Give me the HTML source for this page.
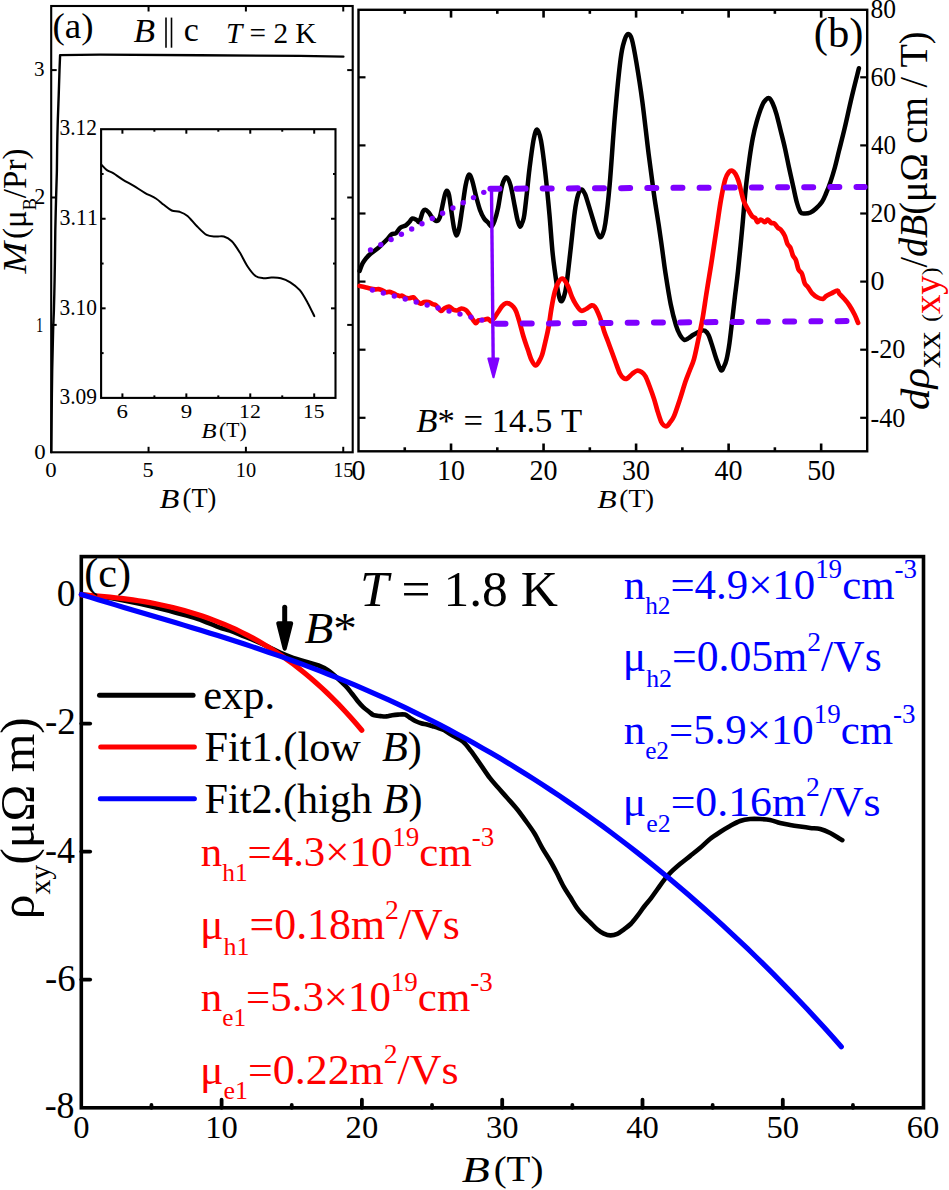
<!DOCTYPE html>
<html><head><meta charset="utf-8"><style>
html,body{margin:0;padding:0;background:#fff;}
body{width:949px;height:1190px;overflow:hidden;}
svg{display:block;font-family:"Liberation Serif",serif;font-kerning:none;}
text{font-kerning:none;}
</style></head><body>
<svg width="949" height="1190" viewBox="0 0 949 1190">
<rect width="949" height="1190" fill="#fff"/>
<rect x="51.20" y="6.00" width="301.50" height="446.30" fill="none" stroke="#000" stroke-width="2.1" stroke-linejoin="miter"/>
<line x1="148.55" y1="452.30" x2="148.55" y2="446.80" stroke="#000" stroke-width="2" stroke-linecap="butt" />
<line x1="148.55" y1="6.00" x2="148.55" y2="11.50" stroke="#000" stroke-width="2" stroke-linecap="butt" />
<line x1="245.90" y1="452.30" x2="245.90" y2="446.80" stroke="#000" stroke-width="2" stroke-linecap="butt" />
<line x1="245.90" y1="6.00" x2="245.90" y2="11.50" stroke="#000" stroke-width="2" stroke-linecap="butt" />
<line x1="343.25" y1="452.30" x2="343.25" y2="446.80" stroke="#000" stroke-width="2" stroke-linecap="butt" />
<line x1="343.25" y1="6.00" x2="343.25" y2="11.50" stroke="#000" stroke-width="2" stroke-linecap="butt" />
<line x1="51.20" y1="324.90" x2="56.70" y2="324.90" stroke="#000" stroke-width="2" stroke-linecap="butt" />
<line x1="352.70" y1="324.90" x2="347.20" y2="324.90" stroke="#000" stroke-width="2" stroke-linecap="butt" />
<line x1="51.20" y1="197.50" x2="56.70" y2="197.50" stroke="#000" stroke-width="2" stroke-linecap="butt" />
<line x1="352.70" y1="197.50" x2="347.20" y2="197.50" stroke="#000" stroke-width="2" stroke-linecap="butt" />
<line x1="51.20" y1="70.10" x2="56.70" y2="70.10" stroke="#000" stroke-width="2" stroke-linecap="butt" />
<line x1="352.70" y1="70.10" x2="347.20" y2="70.10" stroke="#000" stroke-width="2" stroke-linecap="butt" />
<path d="M51.30,452.00 C51.35,446.67 51.45,433.67 51.60,420.00 C51.75,406.33 51.95,384.83 52.20,370.00 C52.45,355.17 52.82,341.00 53.10,331.00 C53.38,321.00 53.65,318.50 53.90,310.00 C54.15,301.50 54.42,289.17 54.60,280.00 C54.78,270.83 54.88,263.23 55.00,255.00 C55.12,246.77 55.12,240.20 55.30,230.60 C55.48,221.00 55.83,207.50 56.10,197.40 C56.37,187.30 56.72,178.73 56.90,170.00 C57.08,161.27 57.05,153.23 57.20,145.00 C57.35,136.77 57.55,128.87 57.80,120.60 C58.05,112.33 58.42,103.80 58.70,95.40 C58.98,87.00 59.27,76.92 59.50,70.20 C59.73,63.48 60.00,57.62 60.10,55.10 L100,54.6 L200,55.2 L300,55.9 L343.4,56.6" fill="none" stroke="#000" stroke-width="2.4" stroke-linejoin="round" stroke-linecap="round" />
<rect x="101.10" y="129.20" width="234.40" height="268.70" fill="none" stroke="#000" stroke-width="2.1" stroke-linejoin="miter"/>
<line x1="122.41" y1="397.90" x2="122.41" y2="393.40" stroke="#000" stroke-width="2.0" stroke-linecap="butt" />
<line x1="122.41" y1="129.20" x2="122.41" y2="133.70" stroke="#000" stroke-width="2.0" stroke-linecap="butt" />
<line x1="186.34" y1="397.90" x2="186.34" y2="393.40" stroke="#000" stroke-width="2.0" stroke-linecap="butt" />
<line x1="186.34" y1="129.20" x2="186.34" y2="133.70" stroke="#000" stroke-width="2.0" stroke-linecap="butt" />
<line x1="250.27" y1="397.90" x2="250.27" y2="393.40" stroke="#000" stroke-width="2.0" stroke-linecap="butt" />
<line x1="250.27" y1="129.20" x2="250.27" y2="133.70" stroke="#000" stroke-width="2.0" stroke-linecap="butt" />
<line x1="314.20" y1="397.90" x2="314.20" y2="393.40" stroke="#000" stroke-width="2.0" stroke-linecap="butt" />
<line x1="314.20" y1="129.20" x2="314.20" y2="133.70" stroke="#000" stroke-width="2.0" stroke-linecap="butt" />
<line x1="154.38" y1="397.90" x2="154.38" y2="395.40" stroke="#000" stroke-width="2.0" stroke-linecap="butt" />
<line x1="154.38" y1="129.20" x2="154.38" y2="131.70" stroke="#000" stroke-width="2.0" stroke-linecap="butt" />
<line x1="218.31" y1="397.90" x2="218.31" y2="395.40" stroke="#000" stroke-width="2.0" stroke-linecap="butt" />
<line x1="218.31" y1="129.20" x2="218.31" y2="131.70" stroke="#000" stroke-width="2.0" stroke-linecap="butt" />
<line x1="282.24" y1="397.90" x2="282.24" y2="395.40" stroke="#000" stroke-width="2.0" stroke-linecap="butt" />
<line x1="282.24" y1="129.20" x2="282.24" y2="131.70" stroke="#000" stroke-width="2.0" stroke-linecap="butt" />
<line x1="101.10" y1="308.33" x2="105.60" y2="308.33" stroke="#000" stroke-width="2.0" stroke-linecap="butt" />
<line x1="335.50" y1="308.33" x2="331.00" y2="308.33" stroke="#000" stroke-width="2.0" stroke-linecap="butt" />
<line x1="101.10" y1="218.76" x2="105.60" y2="218.76" stroke="#000" stroke-width="2.0" stroke-linecap="butt" />
<line x1="335.50" y1="218.76" x2="331.00" y2="218.76" stroke="#000" stroke-width="2.0" stroke-linecap="butt" />
<line x1="101.10" y1="353.11" x2="103.60" y2="353.11" stroke="#000" stroke-width="2.0" stroke-linecap="butt" />
<line x1="335.50" y1="353.11" x2="333.00" y2="353.11" stroke="#000" stroke-width="2.0" stroke-linecap="butt" />
<line x1="101.10" y1="263.54" x2="103.60" y2="263.54" stroke="#000" stroke-width="2.0" stroke-linecap="butt" />
<line x1="335.50" y1="263.54" x2="333.00" y2="263.54" stroke="#000" stroke-width="2.0" stroke-linecap="butt" />
<line x1="101.10" y1="173.97" x2="103.60" y2="173.97" stroke="#000" stroke-width="2.0" stroke-linecap="butt" />
<line x1="335.50" y1="173.97" x2="333.00" y2="173.97" stroke="#000" stroke-width="2.0" stroke-linecap="butt" />
<path d="M101.20,164.40 C102.15,165.35 104.90,168.63 106.90,170.10 C108.90,171.57 110.57,171.62 113.20,173.20 C115.83,174.78 119.27,177.48 122.70,179.60 C126.13,181.72 130.12,183.70 133.80,185.90 C137.48,188.10 141.12,190.70 144.80,192.80 C148.48,194.90 152.73,196.50 155.90,198.50 C159.07,200.50 161.17,202.80 163.80,204.80 C166.43,206.80 169.07,209.33 171.70,210.50 C174.33,211.67 176.97,210.90 179.60,211.80 C182.23,212.70 184.60,213.48 187.50,215.90 C190.40,218.32 193.83,223.13 197.00,226.30 C200.17,229.47 203.33,233.20 206.50,234.90 C209.67,236.60 213.10,236.23 216.00,236.50 C218.90,236.77 221.27,235.72 223.90,236.50 C226.53,237.28 229.17,238.57 231.80,241.20 C234.43,243.83 237.07,248.08 239.70,252.30 C242.33,256.52 244.97,262.55 247.60,266.50 C250.23,270.45 252.87,274.05 255.50,276.00 C258.13,277.95 260.77,277.93 263.40,278.20 C266.03,278.47 268.40,277.60 271.30,277.60 C274.20,277.60 277.63,277.42 280.80,278.20 C283.97,278.98 287.13,280.30 290.30,282.30 C293.47,284.30 296.90,286.77 299.80,290.20 C302.70,293.63 305.28,298.58 307.70,302.90 C310.12,307.22 313.20,313.90 314.30,316.10" fill="none" stroke="#000" stroke-width="2.0" stroke-linejoin="round" stroke-linecap="round" />
<text transform="matrix(0.09244,0,0,0.08705,52.429,37.901)" font-size="400" fill="#000" ><tspan x="0.00" y="0.00">(a)</tspan></text>
<text transform="matrix(0.08836,0,0,0.08555,133.447,41.614)" font-size="400" fill="#000" ><tspan x="0.00" y="0.00" font-style="italic">B</tspan></text>
<line x1="166.00" y1="17.60" x2="166.00" y2="47.70" stroke="#000" stroke-width="1.6" stroke-linecap="butt" />
<line x1="171.50" y1="17.60" x2="171.50" y2="47.70" stroke="#000" stroke-width="1.6" stroke-linecap="butt" />
<text transform="matrix(0.08467,0,0,0.08281,183.830,41.069)" font-size="400" fill="#000" ><tspan x="0.00" y="0.00">c</tspan></text>
<text transform="matrix(0.07316,0,0,0.07434,225.998,43.000)" font-size="400" fill="#000" ><tspan x="0.00" y="0.00" font-style="italic">T</tspan><tspan x="222.47" y="0.00"> = 2 K</tspan></text>
<text transform="matrix(0.05706,0,0,0.05481,34.244,458.781)" font-size="400" fill="#000" ><tspan x="0.00" y="0.00">0</tspan></text>
<text transform="matrix(0.03617,0,0,0.05492,35.934,331.600)" font-size="400" fill="#000" ><tspan x="0.00" y="0.00">1</tspan></text>
<text transform="matrix(0.05528,0,0,0.05547,34.160,203.800)" font-size="400" fill="#000" ><tspan x="0.00" y="0.00">2</tspan></text>
<text transform="matrix(0.05273,0,0,0.05242,33.898,75.890)" font-size="400" fill="#000" ><tspan x="0.00" y="0.00">3</tspan></text>
<text transform="matrix(0.05706,0,0,0.05444,45.144,476.682)" font-size="400" fill="#000" ><tspan x="0.00" y="0.00">0</tspan></text>
<text transform="matrix(0.05528,0,0,0.05263,142.429,476.689)" font-size="400" fill="#000" ><tspan x="0.00" y="0.00">5</tspan></text>
<text transform="matrix(0.05086,0,0,0.05333,235.720,476.687)" font-size="400" fill="#000" ><tspan x="0.00" y="0.00">10</tspan></text>
<text transform="matrix(0.05072,0,0,0.05299,333.125,476.588)" font-size="400" fill="#000" ><tspan x="0.00" y="0.00">15</tspan></text>
<text transform="matrix(0.08103,0,0,0.06730,159.576,507.633)" font-size="400" fill="#000" ><tspan x="0.00" y="0.00" font-style="italic">B</tspan></text>
<text transform="matrix(0.06625,0,0,0.06612,182.574,507.280)" font-size="400" fill="#000" ><tspan x="0.00" y="0.00">(T)</tspan></text>
<text transform="matrix(0,-0.09552,0.08550,0,25.900,273.622)" font-size="400" fill="#000" ><tspan x="0.00" y="0.00" font-style="italic">M</tspan></text>
<text transform="matrix(0,-0.08264,0.08313,0,26.009,239.005)" font-size="400" fill="#000" ><tspan x="0.00" y="0.00">(μ</tspan><tspan x="347.66" y="124.00" font-size="220.00">B</tspan><tspan x="494.39" y="0.00">/Pr)</tspan></text>
<text transform="matrix(0.05357,0,0,0.05535,59.482,134.968)" font-size="400" fill="#000" ><tspan x="0.00" y="0.00">3.12</tspan></text>
<text transform="matrix(0.05498,0,0,0.05535,59.455,225.068)" font-size="400" fill="#000" ><tspan x="0.00" y="0.00">3.11</tspan></text>
<text transform="matrix(0.05345,0,0,0.05515,59.484,314.669)" font-size="400" fill="#000" ><tspan x="0.00" y="0.00">3.10</tspan></text>
<text transform="matrix(0.05353,0,0,0.05515,59.483,404.469)" font-size="400" fill="#000" ><tspan x="0.00" y="0.00">3.09</tspan></text>
<text transform="matrix(0.05731,0,0,0.04498,116.536,418.020)" font-size="400" fill="#000" ><tspan x="0.00" y="0.00">6</tspan></text>
<text transform="matrix(0.05731,0,0,0.04498,180.695,418.020)" font-size="400" fill="#000" ><tspan x="0.00" y="0.00">9</tspan></text>
<text transform="matrix(0.05452,0,0,0.04566,239.012,418.200)" font-size="400" fill="#000" ><tspan x="0.00" y="0.00">12</tspan></text>
<text transform="matrix(0.05358,0,0,0.04515,302.975,418.019)" font-size="400" fill="#000" ><tspan x="0.00" y="0.00">15</tspan></text>
<text transform="matrix(0.06250,0,0,0.05019,201.150,437.650)" font-size="400" fill="#000" ><tspan x="0.00" y="0.00" font-style="italic">B</tspan></text>
<text transform="matrix(0.05409,0,0,0.05069,218.981,436.791)" font-size="400" fill="#000" ><tspan x="0.00" y="0.00">(T)</tspan></text>
<rect x="358.50" y="9.80" width="508.70" height="441.50" fill="none" stroke="#000" stroke-width="2.4" stroke-linejoin="miter"/>
<line x1="404.76" y1="451.30" x2="404.76" y2="447.30" stroke="#000" stroke-width="2.6" stroke-linecap="butt" />
<line x1="404.76" y1="9.80" x2="404.76" y2="13.80" stroke="#000" stroke-width="2.6" stroke-linecap="butt" />
<line x1="451.03" y1="451.30" x2="451.03" y2="443.50" stroke="#000" stroke-width="2.6" stroke-linecap="butt" />
<line x1="451.03" y1="9.80" x2="451.03" y2="17.60" stroke="#000" stroke-width="2.6" stroke-linecap="butt" />
<line x1="497.30" y1="451.30" x2="497.30" y2="447.30" stroke="#000" stroke-width="2.6" stroke-linecap="butt" />
<line x1="497.30" y1="9.80" x2="497.30" y2="13.80" stroke="#000" stroke-width="2.6" stroke-linecap="butt" />
<line x1="543.56" y1="451.30" x2="543.56" y2="443.50" stroke="#000" stroke-width="2.6" stroke-linecap="butt" />
<line x1="543.56" y1="9.80" x2="543.56" y2="17.60" stroke="#000" stroke-width="2.6" stroke-linecap="butt" />
<line x1="589.83" y1="451.30" x2="589.83" y2="447.30" stroke="#000" stroke-width="2.6" stroke-linecap="butt" />
<line x1="589.83" y1="9.80" x2="589.83" y2="13.80" stroke="#000" stroke-width="2.6" stroke-linecap="butt" />
<line x1="636.09" y1="451.30" x2="636.09" y2="443.50" stroke="#000" stroke-width="2.6" stroke-linecap="butt" />
<line x1="636.09" y1="9.80" x2="636.09" y2="17.60" stroke="#000" stroke-width="2.6" stroke-linecap="butt" />
<line x1="682.36" y1="451.30" x2="682.36" y2="447.30" stroke="#000" stroke-width="2.6" stroke-linecap="butt" />
<line x1="682.36" y1="9.80" x2="682.36" y2="13.80" stroke="#000" stroke-width="2.6" stroke-linecap="butt" />
<line x1="728.62" y1="451.30" x2="728.62" y2="443.50" stroke="#000" stroke-width="2.6" stroke-linecap="butt" />
<line x1="728.62" y1="9.80" x2="728.62" y2="17.60" stroke="#000" stroke-width="2.6" stroke-linecap="butt" />
<line x1="774.88" y1="451.30" x2="774.88" y2="447.30" stroke="#000" stroke-width="2.6" stroke-linecap="butt" />
<line x1="774.88" y1="9.80" x2="774.88" y2="13.80" stroke="#000" stroke-width="2.6" stroke-linecap="butt" />
<line x1="821.15" y1="451.30" x2="821.15" y2="443.50" stroke="#000" stroke-width="2.6" stroke-linecap="butt" />
<line x1="821.15" y1="9.80" x2="821.15" y2="17.60" stroke="#000" stroke-width="2.6" stroke-linecap="butt" />
<line x1="358.50" y1="77.30" x2="365.50" y2="77.30" stroke="#000" stroke-width="2.2" stroke-linecap="butt" />
<line x1="867.20" y1="77.30" x2="860.20" y2="77.30" stroke="#000" stroke-width="2.2" stroke-linecap="butt" />
<line x1="358.50" y1="145.40" x2="365.50" y2="145.40" stroke="#000" stroke-width="2.2" stroke-linecap="butt" />
<line x1="867.20" y1="145.40" x2="860.20" y2="145.40" stroke="#000" stroke-width="2.2" stroke-linecap="butt" />
<line x1="358.50" y1="213.50" x2="365.50" y2="213.50" stroke="#000" stroke-width="2.2" stroke-linecap="butt" />
<line x1="867.20" y1="213.50" x2="860.20" y2="213.50" stroke="#000" stroke-width="2.2" stroke-linecap="butt" />
<line x1="358.50" y1="281.60" x2="365.50" y2="281.60" stroke="#000" stroke-width="2.2" stroke-linecap="butt" />
<line x1="867.20" y1="281.60" x2="860.20" y2="281.60" stroke="#000" stroke-width="2.2" stroke-linecap="butt" />
<line x1="358.50" y1="349.70" x2="365.50" y2="349.70" stroke="#000" stroke-width="2.2" stroke-linecap="butt" />
<line x1="867.20" y1="349.70" x2="860.20" y2="349.70" stroke="#000" stroke-width="2.2" stroke-linecap="butt" />
<line x1="358.50" y1="417.80" x2="365.50" y2="417.80" stroke="#000" stroke-width="2.2" stroke-linecap="butt" />
<line x1="867.20" y1="417.80" x2="860.20" y2="417.80" stroke="#000" stroke-width="2.2" stroke-linecap="butt" />
<path d="M359.60,271.00 C360.08,269.75 361.43,265.60 362.50,263.50 C363.57,261.40 364.80,259.90 366.00,258.40 C367.20,256.90 368.00,255.97 369.70,254.50 C371.40,253.03 374.20,251.25 376.20,249.60 C378.20,247.95 379.87,246.33 381.70,244.60 C383.53,242.87 385.57,240.92 387.20,239.20 C388.83,237.48 390.05,235.30 391.50,234.30 C392.95,233.30 394.43,234.30 395.90,233.20 C397.37,232.10 398.67,228.98 400.30,227.70 C401.93,226.42 404.15,226.50 405.70,225.50 C407.25,224.50 408.50,222.88 409.60,221.70 C410.70,220.52 411.12,218.67 412.30,218.40 C413.48,218.13 415.52,219.55 416.70,220.10 C417.88,220.65 418.40,223.07 419.40,221.70 C420.40,220.33 421.70,213.90 422.70,211.90 C423.70,209.90 424.40,209.62 425.40,209.70 C426.40,209.78 427.60,211.13 428.70,212.40 C429.80,213.67 430.73,215.85 432.00,217.30 C433.27,218.75 435.03,221.00 436.30,221.10 C437.57,221.20 438.60,220.35 439.60,217.90 C440.60,215.45 441.43,210.22 442.30,206.40 C443.17,202.58 444.07,197.60 444.80,195.00 C445.53,192.40 446.00,190.80 446.70,190.80 C447.40,190.80 448.20,191.47 449.00,195.00 C449.80,198.53 450.67,206.50 451.50,212.00 C452.33,217.50 453.18,224.07 454.00,228.00 C454.82,231.93 455.57,235.43 456.40,235.60 C457.23,235.77 458.07,233.27 459.00,229.00 C459.93,224.73 460.92,217.17 462.00,210.00 C463.08,202.83 464.38,191.87 465.50,186.00 C466.62,180.13 467.62,175.80 468.70,174.80 C469.78,173.80 470.78,176.47 472.00,180.00 C473.22,183.53 474.67,191.00 476.00,196.00 C477.33,201.00 478.65,206.25 480.00,210.00 C481.35,213.75 482.77,216.42 484.10,218.50 C485.43,220.58 486.77,221.18 488.00,222.50 C489.23,223.82 490.42,226.65 491.50,226.40 C492.58,226.15 493.43,223.97 494.50,221.00 C495.57,218.03 496.63,214.52 497.90,208.60 C499.17,202.68 500.68,190.73 502.10,185.50 C503.52,180.27 504.98,177.20 506.40,177.20 C507.82,177.20 509.20,180.62 510.60,185.50 C512.00,190.38 513.65,200.75 514.80,206.50 C515.95,212.25 516.63,216.65 517.50,220.00 C518.37,223.35 519.17,226.27 520.00,226.60 C520.83,226.93 521.78,223.93 522.50,222.00 C523.22,220.07 523.55,220.00 524.30,215.00 C525.05,210.00 526.13,199.73 527.00,192.00 C527.87,184.27 528.38,177.42 529.50,168.60 C530.62,159.78 532.40,145.60 533.70,139.10 C535.00,132.60 536.07,129.25 537.30,129.60 C538.53,129.95 539.77,134.00 541.10,141.20 C542.43,148.40 543.90,160.50 545.30,172.80 C546.70,185.10 548.27,201.50 549.50,215.00 C550.73,228.50 551.47,242.07 552.70,253.80 C553.93,265.53 555.77,278.03 556.90,285.40 C558.03,292.77 558.73,295.37 559.50,298.00 C560.27,300.63 560.78,301.37 561.50,301.20 C562.22,301.03 562.98,299.63 563.80,297.00 C564.62,294.37 565.27,293.32 566.40,285.40 C567.53,277.48 569.20,261.80 570.60,249.50 C572.00,237.20 573.57,220.68 574.80,211.60 C576.03,202.52 576.85,198.68 578.00,195.00 C579.15,191.32 580.53,189.67 581.70,189.50 C582.87,189.33 584.05,192.07 585.00,194.00 C585.95,195.93 585.93,196.42 587.40,201.10 C588.87,205.78 592.20,216.95 593.80,222.10 C595.40,227.25 596.00,229.48 597.00,232.00 C598.00,234.52 598.88,236.78 599.80,237.20 C600.72,237.62 601.57,236.87 602.50,234.50 C603.43,232.13 604.22,231.17 605.40,223.00 C606.58,214.83 608.02,203.35 609.60,185.50 C611.18,167.65 613.07,136.98 614.90,115.90 C616.73,94.82 618.98,71.65 620.60,59.00 C622.22,46.35 623.33,44.17 624.60,40.00 C625.87,35.83 626.98,34.08 628.20,34.00 C629.42,33.92 630.53,34.75 631.90,39.50 C633.27,44.25 634.67,52.22 636.40,62.50 C638.13,72.78 640.27,85.98 642.30,101.20 C644.33,116.42 646.67,138.35 648.60,153.80 C650.53,169.25 652.15,181.60 653.90,193.90 C655.65,206.20 657.70,218.25 659.10,227.60 C660.50,236.95 661.25,242.48 662.30,250.00 C663.35,257.52 664.00,263.65 665.40,272.70 C666.80,281.75 668.93,295.52 670.70,304.30 C672.47,313.08 674.45,320.28 676.00,325.40 C677.55,330.52 678.62,332.60 680.00,335.00 C681.38,337.40 682.87,339.28 684.30,339.80 C685.73,340.32 687.15,338.90 688.60,338.10 C690.05,337.30 691.60,335.88 693.00,335.00 C694.40,334.12 695.67,333.50 697.00,332.80 C698.33,332.10 699.67,331.15 701.00,330.80 C702.33,330.45 703.75,330.00 705.00,330.70 C706.25,331.40 707.37,332.72 708.50,335.00 C709.63,337.28 710.55,340.57 711.80,344.40 C713.05,348.23 714.48,353.72 716.00,358.00 C717.52,362.28 719.57,368.68 720.90,370.10 C722.23,371.52 723.05,368.30 724.00,366.50 C724.95,364.70 725.68,363.22 726.60,359.30 C727.52,355.38 728.55,349.63 729.50,343.00 C730.45,336.37 731.38,327.33 732.30,319.50 C733.22,311.67 734.05,304.07 735.00,296.00 C735.95,287.93 736.80,282.37 738.00,271.10 C739.20,259.83 740.93,241.92 742.20,228.40 C743.47,214.88 744.40,201.52 745.60,190.00 C746.80,178.48 748.20,167.97 749.40,159.30 C750.60,150.63 751.62,144.17 752.80,138.00 C753.98,131.83 754.93,127.75 756.50,122.30 C758.07,116.85 760.62,109.10 762.20,105.30 C763.78,101.50 764.82,100.68 766.00,99.50 C767.18,98.32 768.22,97.62 769.30,98.20 C770.38,98.78 771.32,100.40 772.50,103.00 C773.68,105.60 775.07,109.30 776.40,113.80 C777.73,118.30 779.08,124.32 780.50,130.00 C781.92,135.68 783.48,141.65 784.90,147.90 C786.32,154.15 787.57,160.85 789.00,167.50 C790.43,174.15 792.17,181.88 793.50,187.80 C794.83,193.72 795.82,198.90 797.00,203.00 C798.18,207.10 799.27,210.65 800.60,212.40 C801.93,214.15 803.35,213.48 805.00,213.50 C806.65,213.52 808.67,213.33 810.50,212.50 C812.33,211.67 814.10,210.25 816.00,208.50 C817.90,206.75 820.23,204.50 821.90,202.00 C823.57,199.50 824.58,196.82 826.00,193.50 C827.42,190.18 828.90,186.52 830.40,182.10 C831.90,177.68 833.57,172.22 835.00,167.00 C836.43,161.78 837.38,157.30 839.00,150.80 C840.62,144.30 842.57,137.02 844.70,128.00 C846.83,118.98 849.43,106.65 851.80,96.70 C854.17,86.75 857.72,73.03 858.90,68.30" fill="none" stroke="#000" stroke-width="4.5" stroke-linejoin="round" stroke-linecap="round" />
<path d="M359.60,286.00 C360.52,286.20 363.33,286.78 365.10,287.20 C366.87,287.62 368.52,288.15 370.20,288.50 C371.88,288.85 373.80,289.18 375.20,289.30 C376.60,289.42 377.47,289.05 378.60,289.20 C379.73,289.35 380.73,289.68 382.00,290.20 C383.27,290.72 384.93,292.02 386.20,292.30 C387.47,292.58 388.33,291.70 389.60,291.90 C390.87,292.10 392.53,292.95 393.80,293.50 C395.07,294.05 396.22,294.77 397.20,295.20 C398.18,295.63 398.87,296.02 399.70,296.10 C400.53,296.18 401.22,295.42 402.20,295.70 C403.18,295.98 404.33,297.38 405.60,297.80 C406.87,298.22 408.53,298.28 409.80,298.20 C411.07,298.12 412.07,296.88 413.20,297.30 C414.33,297.72 415.33,299.63 416.60,300.70 C417.87,301.77 419.55,303.48 420.80,303.70 C422.05,303.92 422.83,302.28 424.10,302.00 C425.37,301.72 426.98,301.65 428.40,302.00 C429.82,302.35 431.42,303.60 432.60,304.10 C433.78,304.60 434.67,304.50 435.50,305.00 C436.33,305.50 436.70,306.12 437.60,307.10 C438.50,308.08 439.80,310.67 440.90,310.90 C442.00,311.13 442.85,309.22 444.20,308.50 C445.55,307.78 447.42,306.37 449.00,306.60 C450.58,306.83 452.28,309.27 453.70,309.90 C455.12,310.53 456.23,310.63 457.50,310.40 C458.77,310.17 459.95,308.58 461.30,308.50 C462.65,308.42 464.33,309.03 465.60,309.90 C466.87,310.77 467.72,312.12 468.90,313.70 C470.08,315.28 471.52,317.82 472.70,319.40 C473.88,320.98 475.05,323.03 476.00,323.20 C476.95,323.37 477.22,320.95 478.40,320.40 C479.58,319.85 481.52,320.15 483.10,319.90 C484.68,319.65 486.55,318.67 487.90,318.90 C489.25,319.13 490.10,321.53 491.20,321.30 C492.30,321.07 493.32,319.08 494.50,317.50 C495.68,315.92 497.03,313.70 498.30,311.80 C499.57,309.90 500.83,307.52 502.10,306.10 C503.37,304.68 504.63,303.68 505.90,303.30 C507.17,302.92 508.43,303.17 509.70,303.80 C510.97,304.43 512.40,305.77 513.50,307.10 C514.60,308.43 515.30,309.32 516.30,311.80 C517.30,314.28 518.28,317.80 519.50,322.00 C520.72,326.20 522.18,332.33 523.60,337.00 C525.02,341.67 526.68,346.17 528.00,350.00 C529.32,353.83 530.23,357.42 531.50,360.00 C532.77,362.58 534.35,365.25 535.60,365.50 C536.85,365.75 537.92,363.27 539.00,361.50 C540.08,359.73 541.05,358.15 542.10,354.90 C543.15,351.65 544.23,346.57 545.30,342.00 C546.37,337.43 547.47,333.17 548.50,327.50 C549.53,321.83 550.45,313.97 551.50,308.00 C552.55,302.03 553.63,296.03 554.80,291.70 C555.97,287.37 557.22,284.20 558.50,282.00 C559.78,279.80 561.25,278.42 562.50,278.50 C563.75,278.58 565.00,281.00 566.00,282.50 C567.00,284.00 567.50,285.08 568.50,287.50 C569.50,289.92 570.78,294.20 572.00,297.00 C573.22,299.80 574.28,302.02 575.80,304.30 C577.32,306.58 579.40,309.92 581.10,310.70 C582.80,311.48 584.23,309.88 586.00,309.00 C587.77,308.12 590.20,305.73 591.70,305.40 C593.20,305.07 593.95,305.77 595.00,307.00 C596.05,308.23 596.92,310.30 598.00,312.80 C599.08,315.30 600.45,318.85 601.50,322.00 C602.55,325.15 603.22,328.45 604.30,331.70 C605.38,334.95 606.82,338.32 608.00,341.50 C609.18,344.68 610.15,347.38 611.40,350.80 C612.65,354.22 614.08,358.22 615.50,362.00 C616.92,365.78 618.57,370.83 619.90,373.50 C621.23,376.17 622.32,377.17 623.50,378.00 C624.68,378.83 625.58,379.17 627.00,378.50 C628.42,377.83 630.33,375.30 632.00,374.00 C633.67,372.70 635.42,371.03 637.00,370.70 C638.58,370.37 640.08,371.05 641.50,372.00 C642.92,372.95 644.08,373.82 645.50,376.40 C646.92,378.98 648.57,383.72 650.00,387.50 C651.43,391.28 652.85,395.18 654.10,399.10 C655.35,403.02 656.32,407.20 657.50,411.00 C658.68,414.80 660.12,419.48 661.20,421.90 C662.28,424.32 663.05,424.78 664.00,425.50 C664.95,426.22 665.90,426.70 666.90,426.20 C667.90,425.70 668.82,424.17 670.00,422.50 C671.18,420.83 672.33,420.12 674.00,416.20 C675.67,412.28 678.12,404.68 680.00,399.00 C681.88,393.32 683.72,386.77 685.30,382.10 C686.88,377.43 688.07,374.80 689.50,371.00 C690.93,367.20 692.48,364.30 693.90,359.30 C695.32,354.30 696.58,347.63 698.00,341.00 C699.42,334.37 700.98,327.50 702.40,319.50 C703.82,311.50 705.07,302.02 706.50,293.00 C707.93,283.98 709.32,276.17 711.00,265.40 C712.68,254.63 714.95,239.30 716.60,228.40 C718.25,217.50 719.47,208.15 720.90,200.00 C722.33,191.85 723.85,184.17 725.20,179.50 C726.55,174.83 727.82,173.47 729.00,172.00 C730.18,170.53 731.22,170.37 732.30,170.70 C733.38,171.03 734.47,172.28 735.50,174.00 C736.53,175.72 737.62,178.33 738.50,181.00 C739.38,183.67 739.93,186.67 740.80,190.00 C741.67,193.33 742.65,198.03 743.70,201.00 C744.75,203.97 745.73,205.30 747.10,207.80 C748.47,210.30 750.53,214.28 751.90,216.00 C753.27,217.72 754.38,217.07 755.30,218.10 C756.22,219.13 756.48,221.97 757.40,222.20 C758.32,222.43 759.55,219.50 760.80,219.50 C762.05,219.50 763.75,222.20 764.90,222.20 C766.05,222.20 766.67,219.38 767.70,219.50 C768.73,219.62 769.97,222.22 771.10,222.90 C772.23,223.58 773.37,222.80 774.50,223.60 C775.63,224.40 776.75,226.57 777.90,227.70 C779.05,228.83 780.25,229.03 781.40,230.40 C782.55,231.77 783.78,233.62 784.80,235.90 C785.82,238.18 786.58,242.17 787.50,244.10 C788.42,246.03 789.38,245.55 790.30,247.50 C791.22,249.45 792.08,253.73 793.00,255.80 C793.92,257.87 794.88,257.62 795.80,259.90 C796.72,262.18 797.48,267.22 798.50,269.50 C799.52,271.78 800.87,271.32 801.90,273.60 C802.93,275.88 803.67,280.92 804.70,283.20 C805.73,285.48 806.85,285.60 808.10,287.30 C809.35,289.00 810.60,291.70 812.20,293.40 C813.80,295.10 815.87,296.58 817.70,297.50 C819.53,298.42 821.83,299.12 823.20,298.90 C824.57,298.68 824.53,297.12 825.90,296.20 C827.27,295.28 829.47,294.32 831.40,293.40 C833.33,292.48 836.13,290.58 837.50,290.70 C838.87,290.82 838.57,292.85 839.60,294.10 C840.63,295.35 842.10,296.37 843.70,298.20 C845.30,300.03 847.37,302.35 849.20,305.10 C851.03,307.85 853.22,311.73 854.70,314.70 C856.18,317.67 857.53,321.53 858.10,322.90" fill="none" stroke="#ff0000" stroke-width="4.7" stroke-linejoin="round" stroke-linecap="round" />
<circle cx="370.50" cy="249.90" r="2.7" fill="#7f00ff"/>
<circle cx="380.80" cy="244.67" r="2.7" fill="#7f00ff"/>
<circle cx="391.10" cy="239.44" r="2.7" fill="#7f00ff"/>
<circle cx="401.40" cy="234.20" r="2.7" fill="#7f00ff"/>
<circle cx="411.70" cy="228.97" r="2.7" fill="#7f00ff"/>
<circle cx="422.00" cy="223.74" r="2.7" fill="#7f00ff"/>
<circle cx="432.30" cy="218.51" r="2.7" fill="#7f00ff"/>
<circle cx="442.60" cy="213.27" r="2.7" fill="#7f00ff"/>
<circle cx="452.90" cy="208.04" r="2.7" fill="#7f00ff"/>
<circle cx="463.20" cy="202.81" r="2.7" fill="#7f00ff"/>
<circle cx="473.50" cy="197.58" r="2.7" fill="#7f00ff"/>
<circle cx="483.80" cy="192.34" r="2.7" fill="#7f00ff"/>
<circle cx="372.40" cy="290.00" r="2.7" fill="#7f00ff"/>
<circle cx="383.35" cy="293.01" r="2.7" fill="#7f00ff"/>
<circle cx="394.30" cy="296.02" r="2.7" fill="#7f00ff"/>
<circle cx="405.25" cy="299.03" r="2.7" fill="#7f00ff"/>
<circle cx="416.20" cy="302.05" r="2.7" fill="#7f00ff"/>
<circle cx="427.15" cy="305.06" r="2.7" fill="#7f00ff"/>
<circle cx="438.10" cy="308.07" r="2.7" fill="#7f00ff"/>
<circle cx="449.05" cy="311.08" r="2.7" fill="#7f00ff"/>
<circle cx="460.00" cy="314.09" r="2.7" fill="#7f00ff"/>
<circle cx="470.95" cy="317.10" r="2.7" fill="#7f00ff"/>
<circle cx="481.90" cy="320.11" r="2.7" fill="#7f00ff"/>
<line x1="490.40" y1="188.80" x2="864.60" y2="186.90" stroke="#7f00ff" stroke-width="6.0" stroke-linecap="round" stroke-dasharray="9 17.15"/>
<line x1="496.50" y1="323.80" x2="846.50" y2="321.10" stroke="#7f00ff" stroke-width="6.0" stroke-linecap="round" stroke-dasharray="9 17.24"/>
<line x1="491.50" y1="189.00" x2="493.20" y2="362.00" stroke="#7f00ff" stroke-width="3.4" stroke-linecap="butt" />
<polygon points="488.4,358.5 498.4,358.5 493.5,377.2" fill="#7f00ff" stroke="#7f00ff" stroke-width="2.2" stroke-linejoin="round"/>
<text transform="matrix(0.08677,0,0,0.08444,416.253,432.293)" font-size="400" fill="#000" ><tspan x="0.00" y="0.00" font-style="italic">B</tspan><tspan x="244.34" y="0.00">* = 14.5 T</tspan></text>
<text transform="matrix(0.10648,0,0,0.10661,813.790,47.038)" font-size="400" fill="#000" ><tspan x="0.00" y="0.00">(b)</tspan></text>
<text transform="matrix(0.07000,0,0,0.07100,351.500,479.500)" font-size="400" fill="#000" ><tspan x="0.00" y="0.00">0</tspan></text>
<text transform="matrix(0.07000,0,0,0.07100,437.030,479.500)" font-size="400" fill="#000" ><tspan x="0.00" y="0.00">10</tspan></text>
<text transform="matrix(0.07000,0,0,0.07100,529.560,479.500)" font-size="400" fill="#000" ><tspan x="0.00" y="0.00">20</tspan></text>
<text transform="matrix(0.07000,0,0,0.07100,622.090,479.500)" font-size="400" fill="#000" ><tspan x="0.00" y="0.00">30</tspan></text>
<text transform="matrix(0.07000,0,0,0.07100,714.620,479.500)" font-size="400" fill="#000" ><tspan x="0.00" y="0.00">40</tspan></text>
<text transform="matrix(0.07000,0,0,0.07100,807.150,479.500)" font-size="400" fill="#000" ><tspan x="0.00" y="0.00">50</tspan></text>
<text transform="matrix(0.07931,0,0,0.06464,597.283,507.635)" font-size="400" fill="#000" ><tspan x="0.00" y="0.00" font-style="italic">B</tspan></text>
<text transform="matrix(0.06792,0,0,0.06501,619.345,507.374)" font-size="400" fill="#000" ><tspan x="0.00" y="0.00">(T)</tspan></text>
<text transform="matrix(0.06378,0,0,0.06815,870.543,17.927)" font-size="400" fill="#000" ><tspan x="0.00" y="0.00">80</tspan></text>
<text transform="matrix(0.06413,0,0,0.06815,870.410,86.027)" font-size="400" fill="#000" ><tspan x="0.00" y="0.00">60</tspan></text>
<text transform="matrix(0.06260,0,0,0.06815,870.999,154.127)" font-size="400" fill="#000" ><tspan x="0.00" y="0.00">40</tspan></text>
<text transform="matrix(0.06413,0,0,0.06815,870.410,222.227)" font-size="400" fill="#000" ><tspan x="0.00" y="0.00">20</tspan></text>
<text transform="matrix(0.07000,0,0,0.06815,870.450,290.327)" font-size="400" fill="#000" ><tspan x="0.00" y="0.00">0</tspan></text>
<text transform="matrix(0.06541,0,0,0.06815,870.519,358.427)" font-size="400" fill="#000" ><tspan x="0.00" y="0.00">-20</tspan></text>
<text transform="matrix(0.06541,0,0,0.06815,870.519,426.527)" font-size="400" fill="#000" ><tspan x="0.00" y="0.00">-40</tspan></text>
<rect x="81.30" y="556.60" width="842.20" height="551.20" fill="none" stroke="#000" stroke-width="3.6" stroke-linejoin="miter"/>
<line x1="151.45" y1="1107.80" x2="151.45" y2="1104.90" stroke="#000" stroke-width="3.8" stroke-linecap="round" />
<line x1="221.60" y1="1107.80" x2="221.60" y2="1099.70" stroke="#000" stroke-width="3.8" stroke-linecap="round" />
<line x1="291.75" y1="1107.80" x2="291.75" y2="1104.90" stroke="#000" stroke-width="3.8" stroke-linecap="round" />
<line x1="361.90" y1="1107.80" x2="361.90" y2="1099.70" stroke="#000" stroke-width="3.8" stroke-linecap="round" />
<line x1="432.05" y1="1107.80" x2="432.05" y2="1104.90" stroke="#000" stroke-width="3.8" stroke-linecap="round" />
<line x1="502.20" y1="1107.80" x2="502.20" y2="1099.70" stroke="#000" stroke-width="3.8" stroke-linecap="round" />
<line x1="572.35" y1="1107.80" x2="572.35" y2="1104.90" stroke="#000" stroke-width="3.8" stroke-linecap="round" />
<line x1="642.50" y1="1107.80" x2="642.50" y2="1099.70" stroke="#000" stroke-width="3.8" stroke-linecap="round" />
<line x1="712.65" y1="1107.80" x2="712.65" y2="1104.90" stroke="#000" stroke-width="3.8" stroke-linecap="round" />
<line x1="782.80" y1="1107.80" x2="782.80" y2="1099.70" stroke="#000" stroke-width="3.8" stroke-linecap="round" />
<line x1="852.95" y1="1107.80" x2="852.95" y2="1104.90" stroke="#000" stroke-width="3.8" stroke-linecap="round" />
<line x1="81.30" y1="723.60" x2="90.20" y2="723.60" stroke="#000" stroke-width="3.8" stroke-linecap="round" />
<line x1="81.30" y1="851.60" x2="90.20" y2="851.60" stroke="#000" stroke-width="3.8" stroke-linecap="round" />
<line x1="81.30" y1="979.60" x2="90.20" y2="979.60" stroke="#000" stroke-width="3.8" stroke-linecap="round" />
<path d="M81.30,594.30 C84.42,594.67 93.15,595.52 100.00,596.50 C106.85,597.48 113.40,598.47 122.40,600.20 C131.40,601.93 145.23,604.85 154.00,606.90 C162.77,608.95 167.77,610.53 175.00,612.50 C182.23,614.47 190.15,616.27 197.40,618.70 C204.65,621.13 213.07,625.10 218.50,627.10 C223.93,629.10 226.08,629.30 230.00,630.70 C233.92,632.10 237.78,633.80 242.00,635.50 C246.22,637.20 250.98,639.05 255.30,640.90 C259.62,642.75 263.68,644.60 267.90,646.60 C272.12,648.60 276.38,651.02 280.60,652.90 C284.82,654.78 288.98,656.43 293.20,657.90 C297.42,659.37 301.68,660.43 305.90,661.70 C310.12,662.97 314.72,664.02 318.50,665.50 C322.28,666.98 325.43,668.48 328.60,670.60 C331.77,672.72 334.63,675.60 337.50,678.20 C340.37,680.80 343.45,683.70 345.80,686.20 C348.15,688.70 349.67,690.78 351.60,693.20 C353.53,695.62 355.47,698.38 357.40,700.70 C359.33,703.02 361.27,705.27 363.20,707.10 C365.13,708.93 367.27,710.35 369.00,711.70 C370.73,713.05 371.67,714.47 373.60,715.20 C375.53,715.93 378.47,715.90 380.60,716.10 C382.73,716.30 384.47,716.55 386.40,716.40 C388.33,716.25 390.27,715.50 392.20,715.20 C394.13,714.90 395.88,714.70 398.00,714.60 C400.12,714.50 402.98,714.12 404.90,714.60 C406.82,715.08 407.77,716.43 409.50,717.50 C411.23,718.57 413.37,720.03 415.30,721.00 C417.23,721.97 419.17,722.72 421.10,723.30 C423.03,723.88 424.97,724.02 426.90,724.50 C428.83,724.98 430.77,725.62 432.70,726.20 C434.63,726.78 436.57,727.32 438.50,728.00 C440.43,728.68 441.80,728.95 444.30,730.30 C446.80,731.65 450.40,734.23 453.50,736.10 C456.60,737.97 460.00,739.03 462.90,741.50 C465.80,743.97 467.98,747.08 470.90,750.90 C473.82,754.72 477.25,759.90 480.40,764.40 C483.55,768.90 486.90,774.08 489.80,777.90 C492.70,781.72 494.88,783.95 497.80,787.30 C500.72,790.65 504.15,794.42 507.30,798.00 C510.45,801.58 513.78,805.20 516.70,808.80 C519.62,812.40 521.88,815.57 524.80,819.60 C527.72,823.63 531.30,828.30 534.20,833.00 C537.10,837.70 539.52,843.13 542.20,847.80 C544.88,852.47 547.88,856.83 550.30,861.00 C552.72,865.17 554.50,868.58 556.70,872.80 C558.90,877.02 561.25,882.27 563.50,886.30 C565.75,890.33 567.97,893.42 570.20,897.00 C572.43,900.58 574.67,904.65 576.90,907.80 C579.13,910.95 581.35,913.43 583.60,915.90 C585.85,918.37 588.15,920.37 590.40,922.60 C592.65,924.83 594.87,927.47 597.10,929.30 C599.33,931.13 601.57,932.58 603.80,933.60 C606.03,934.62 608.25,935.37 610.50,935.40 C612.75,935.43 615.05,934.82 617.30,933.80 C619.55,932.78 621.77,930.93 624.00,929.30 C626.23,927.67 628.47,926.23 630.70,924.00 C632.93,921.77 635.15,918.82 637.40,915.90 C639.65,912.98 641.95,909.42 644.20,906.50 C646.45,903.58 648.67,901.32 650.90,898.40 C653.13,895.48 655.35,892.13 657.60,889.00 C659.85,885.87 662.33,882.25 664.40,879.60 C666.47,876.95 667.40,875.68 670.00,873.10 C672.60,870.52 676.67,866.93 680.00,864.10 C683.33,861.27 686.67,858.78 690.00,856.10 C693.33,853.42 696.67,850.85 700.00,848.00 C703.33,845.15 706.65,841.67 710.00,839.00 C713.35,836.33 716.75,834.17 720.10,832.00 C723.45,829.83 726.77,827.83 730.10,826.00 C733.43,824.17 736.77,822.17 740.10,821.00 C743.43,819.83 746.77,819.33 750.10,819.00 C753.43,818.67 756.77,818.83 760.10,819.00 C763.43,819.17 766.77,819.33 770.10,820.00 C773.43,820.67 776.77,822.17 780.10,823.00 C783.43,823.83 786.77,824.40 790.10,825.00 C793.43,825.60 796.75,826.10 800.10,826.60 C803.45,827.10 806.85,827.60 810.20,828.00 C813.55,828.40 816.87,828.17 820.20,829.00 C823.53,829.83 826.87,831.33 830.20,833.00 C833.53,834.67 838.18,837.80 840.20,839.00 C842.22,840.20 841.95,840.00 842.30,840.20" fill="none" stroke="#000" stroke-width="4.6" stroke-linejoin="round" stroke-linecap="round" />
<path d="M81.30,594.85 L87.02,595.22 L92.75,595.62 L98.47,596.07 L104.20,596.57 L109.92,597.12 L115.65,597.72 L121.37,598.38 L127.10,599.11 L132.82,599.89 L138.54,600.75 L144.27,601.68 L149.99,602.68 L155.72,603.77 L161.44,604.94 L167.17,606.19 L172.89,607.54 L178.62,608.98 L184.34,610.52 L190.07,612.16 L195.79,613.91 L201.51,615.77 L207.24,617.74 L212.96,619.83 L218.69,622.05 L224.41,624.39 L230.14,626.86 L235.86,629.47 L241.59,632.22 L247.31,635.11 L253.03,638.16 L258.76,641.35 L264.48,644.70 L270.21,648.21 L275.93,651.89 L281.66,655.74 L287.38,659.77 L293.11,663.98 L298.83,668.37 L304.56,672.95 L310.28,677.72 L316.00,682.70 L321.73,687.88 L327.45,693.26 L333.18,698.86 L338.90,704.69 L344.63,710.73 L350.35,717.00 L356.08,723.51 L361.80,730.26" fill="none" stroke="#ff0000" stroke-width="5.2" stroke-linejoin="round" stroke-linecap="round" />
<path d="M81.30,594.50 L89.84,597.13 L98.38,599.74 L106.92,602.31 L115.46,604.87 L124.00,607.40 L132.54,609.93 L141.08,612.45 L149.61,614.97 L158.15,617.49 L166.69,620.02 L175.23,622.56 L183.77,625.12 L192.31,627.70 L200.85,630.30 L209.39,632.93 L217.93,635.59 L226.47,638.29 L235.01,641.02 L243.55,643.80 L252.09,646.63 L260.63,649.50 L269.17,652.42 L277.70,655.39 L286.24,658.42 L294.78,661.51 L303.32,664.66 L311.86,667.87 L320.40,671.15 L328.94,674.49 L337.48,677.91 L346.02,681.40 L354.56,684.95 L363.10,688.59 L371.64,692.30 L380.18,696.09 L388.72,699.96 L397.26,703.91 L405.79,707.94 L414.33,712.06 L422.87,716.26 L431.41,720.55 L439.95,724.92 L448.49,729.39 L457.03,733.94 L465.57,738.58 L474.11,743.32 L482.65,748.15 L491.19,753.07 L499.73,758.09 L508.27,763.20 L516.81,768.41 L525.34,773.71 L533.88,779.12 L542.42,784.62 L550.96,790.22 L559.50,795.92 L568.04,801.73 L576.58,807.63 L585.12,813.64 L593.66,819.75 L602.20,825.96 L610.74,832.28 L619.28,838.71 L627.82,845.24 L636.36,851.88 L644.90,858.63 L653.43,865.48 L661.97,872.45 L670.51,879.53 L679.05,886.73 L687.59,894.03 L696.13,901.46 L704.67,908.99 L713.21,916.65 L721.75,924.43 L730.29,932.32 L738.83,940.34 L747.37,948.48 L755.91,956.75 L764.45,965.14 L772.99,973.66 L781.52,982.31 L790.06,991.10 L798.60,1000.02 L807.14,1009.07 L815.68,1018.27 L824.22,1027.61 L832.76,1037.09 L841.30,1046.71" fill="none" stroke="#0000ff" stroke-width="5.2" stroke-linejoin="round" stroke-linecap="round" />
<line x1="284.70" y1="607.30" x2="284.70" y2="626.00" stroke="#000" stroke-width="5.0" stroke-linecap="round" />
<polygon points="278.3,623.3 291.1,623.3 284.7,648.6" fill="#000" stroke="#000" stroke-width="4.2" stroke-linejoin="round"/>
<line x1="99.50" y1="695.20" x2="193.10" y2="695.20" stroke="#000" stroke-width="5.0" stroke-linecap="round" />
<line x1="100.70" y1="747.00" x2="194.40" y2="747.00" stroke="#ff0000" stroke-width="5.0" stroke-linecap="round" />
<line x1="100.30" y1="798.80" x2="194.40" y2="798.80" stroke="#0000ff" stroke-width="5.0" stroke-linecap="round" />
<text transform="matrix(0.10597,0,0,0.10623,203.304,709.171)" font-size="400" fill="#000" ><tspan x="0.00" y="0.00">exp.</tspan></text>
<text transform="matrix(0.10577,0,0,0.10799,204.537,760.721)" font-size="400" fill="#000" ><tspan x="0.00" y="0.00">Fit1.(low  </tspan><tspan x="1677.97" y="0.00" font-style="italic">B</tspan><tspan x="1922.31" y="0.00">)</tspan></text>
<text transform="matrix(0.10545,0,0,0.10632,204.540,812.757)" font-size="400" fill="#000" ><tspan x="0.00" y="0.00">Fit2.(high </tspan><tspan x="1689.09" y="0.00" font-style="italic">B</tspan><tspan x="1933.44" y="0.00">)</tspan></text>
<text transform="matrix(0.10561,0,0,0.10386,84.205,586.672)" font-size="400" fill="#000" ><tspan x="0.00" y="0.00">(c)</tspan></text>
<text transform="matrix(0.12880,0,0,0.12794,360.051,606.232)" font-size="400" fill="#000" ><tspan x="0.00" y="0.00" font-style="italic">T</tspan><tspan x="222.47" y="0.00"> = 1.8 K</tspan></text>
<text transform="matrix(0.11758,0,0,0.11217,304.430,642.588)" font-size="400" fill="#000" ><tspan x="0.00" y="0.00" font-style="italic">B</tspan><tspan x="244.34" y="0.00">*</tspan></text>
<text transform="matrix(0.10710,0,0,0.10760,623.736,598.521)" font-size="400" fill="#0000ff" ><tspan x="0.00" y="0.00">n</tspan><tspan x="200.00" y="142.40" font-size="236.00">h2</tspan><tspan x="436.00" y="0.00">=4.9×10</tspan><tspan x="1787.19" y="-191.20" font-size="252.00">19</tspan><tspan x="2039.19" y="0.00">cm</tspan><tspan x="2527.88" y="-191.20" font-size="252.00">-3</tspan></text>
<text transform="matrix(0.10930,0,0,0.10840,622.802,671.407)" font-size="400" fill="#0000ff" ><tspan x="0.00" y="0.00">μ</tspan><tspan x="214.45" y="142.40" font-size="236.00">h2</tspan><tspan x="450.45" y="0.00">=0.05m</tspan><tspan x="1687.19" y="-191.20" font-size="252.00">2</tspan><tspan x="1813.19" y="0.00">/Vs</tspan></text>
<text transform="matrix(0.10713,0,0,0.10717,623.736,743.967)" font-size="400" fill="#0000ff" ><tspan x="0.00" y="0.00">n</tspan><tspan x="200.00" y="142.40" font-size="236.00">e2</tspan><tspan x="422.75" y="0.00">=5.9×10</tspan><tspan x="1773.94" y="-191.20" font-size="252.00">19</tspan><tspan x="2025.94" y="0.00">cm</tspan><tspan x="2514.62" y="-191.20" font-size="252.00">-3</tspan></text>
<text transform="matrix(0.10944,0,0,0.10797,622.798,816.353)" font-size="400" fill="#0000ff" ><tspan x="0.00" y="0.00">μ</tspan><tspan x="214.45" y="142.40" font-size="236.00">e2</tspan><tspan x="437.20" y="0.00">=0.16m</tspan><tspan x="1673.94" y="-191.20" font-size="252.00">2</tspan><tspan x="1799.94" y="0.00">/Vs</tspan></text>
<text transform="matrix(0.10717,0,0,0.10760,200.835,866.121)" font-size="400" fill="#ff0000" ><tspan x="0.00" y="0.00">n</tspan><tspan x="200.00" y="142.40" font-size="236.00">h1</tspan><tspan x="436.00" y="0.00">=4.3×10</tspan><tspan x="1787.19" y="-191.20" font-size="252.00">19</tspan><tspan x="2039.19" y="0.00">cm</tspan><tspan x="2527.88" y="-191.20" font-size="252.00">-3</tspan></text>
<text transform="matrix(0.10965,0,0,0.10840,200.091,939.407)" font-size="400" fill="#ff0000" ><tspan x="0.00" y="0.00">μ</tspan><tspan x="214.45" y="142.40" font-size="236.00">h1</tspan><tspan x="450.45" y="0.00">=0.18m</tspan><tspan x="1687.19" y="-191.20" font-size="252.00">2</tspan><tspan x="1813.19" y="0.00">/Vs</tspan></text>
<text transform="matrix(0.10713,0,0,0.10717,200.836,1011.067)" font-size="400" fill="#ff0000" ><tspan x="0.00" y="0.00">n</tspan><tspan x="200.00" y="142.40" font-size="236.00">e1</tspan><tspan x="422.75" y="0.00">=5.3×10</tspan><tspan x="1773.94" y="-191.20" font-size="252.00">19</tspan><tspan x="2025.94" y="0.00">cm</tspan><tspan x="2514.62" y="-191.20" font-size="252.00">-3</tspan></text>
<text transform="matrix(0.10974,0,0,0.10797,200.088,1083.853)" font-size="400" fill="#ff0000" ><tspan x="0.00" y="0.00">μ</tspan><tspan x="214.45" y="142.40" font-size="236.00">e1</tspan><tspan x="437.20" y="0.00">=0.22m</tspan><tspan x="1673.94" y="-191.20" font-size="252.00">2</tspan><tspan x="1799.94" y="0.00">/Vs</tspan></text>
<text transform="matrix(0.09412,0,0,0.09370,56.788,605.725)" font-size="400" fill="#000" ><tspan x="0.00" y="0.00">0</tspan></text>
<text transform="matrix(0.09257,0,0,0.09358,44.911,734.000)" font-size="400" fill="#000" ><tspan x="0.00" y="0.00">-2</tspan></text>
<text transform="matrix(0.09006,0,0,0.09658,44.949,862.800)" font-size="400" fill="#000" ><tspan x="0.00" y="0.00">-4</tspan></text>
<text transform="matrix(0.09183,0,0,0.09517,44.923,990.619)" font-size="400" fill="#000" ><tspan x="0.00" y="0.00">-6</tspan></text>
<text transform="matrix(0.08977,0,0,0.09259,44.653,1118.430)" font-size="400" fill="#000" ><tspan x="0.00" y="0.00">-8</tspan></text>
<text transform="matrix(0.08150,0,0,0.07962,73.150,1138.400)" font-size="400" fill="#000" ><tspan x="0.00" y="0.00">0</tspan></text>
<text transform="matrix(0.08150,0,0,0.07962,205.300,1138.400)" font-size="400" fill="#000" ><tspan x="0.00" y="0.00">10</tspan></text>
<text transform="matrix(0.08150,0,0,0.07962,345.600,1138.400)" font-size="400" fill="#000" ><tspan x="0.00" y="0.00">20</tspan></text>
<text transform="matrix(0.08150,0,0,0.07962,485.900,1138.400)" font-size="400" fill="#000" ><tspan x="0.00" y="0.00">30</tspan></text>
<text transform="matrix(0.08150,0,0,0.07962,626.200,1138.400)" font-size="400" fill="#000" ><tspan x="0.00" y="0.00">40</tspan></text>
<text transform="matrix(0.08150,0,0,0.07962,766.500,1138.400)" font-size="400" fill="#000" ><tspan x="0.00" y="0.00">50</tspan></text>
<text transform="matrix(0.08150,0,0,0.07962,906.800,1138.400)" font-size="400" fill="#000" ><tspan x="0.00" y="0.00">60</tspan></text>
<text transform="matrix(0.11466,0,0,0.08973,461.641,1181.810)" font-size="400" fill="#000" ><tspan x="0.00" y="0.00" font-style="italic">B</tspan></text>
<text transform="matrix(0.09748,0,0,0.09146,493.643,1181.426)" font-size="400" fill="#000" ><tspan x="0.00" y="0.00">(T)</tspan></text>
<text transform="matrix(0,-0.12415,0.11910,0,34.009,919.328)" font-size="400" fill="#000" ><tspan x="0.00" y="0.00">ρ</tspan><tspan x="199.61" y="136.00" font-size="240.00">xy</tspan><tspan x="439.61" y="0.00">(μΩ m)</tspan></text>
<text transform="matrix(0,-0.10726,0.09874,0,928.551,409.987)" font-size="400" fill="#000" ><tspan x="0.00" y="0.00" font-style="italic">d</tspan><tspan x="200.00" y="0.00" font-style="italic">ρ</tspan><tspan x="392.00" y="120.00" font-size="340.00">xx</tspan></text>
<text transform="matrix(0,-0.09722,0.09560,0,940.278,321.872)" font-size="400" fill="#000" ><tspan x="0.00" y="-20.00" font-size="240.00">(</tspan><tspan x="79.92" y="0.00" fill="#ff0000">xy</tspan><tspan x="479.92" y="-20.00" font-size="240.00">)</tspan></text>
<text transform="matrix(0,-0.09531,0.10192,0,926.635,267.600)" font-size="400" fill="#000" ><tspan x="0.00" y="0.00">/</tspan><tspan x="111.14" y="0.00" font-style="italic">dB</tspan><tspan x="555.48" y="0.00">(μΩ cm / T)</tspan></text>
</svg>
</body></html>
